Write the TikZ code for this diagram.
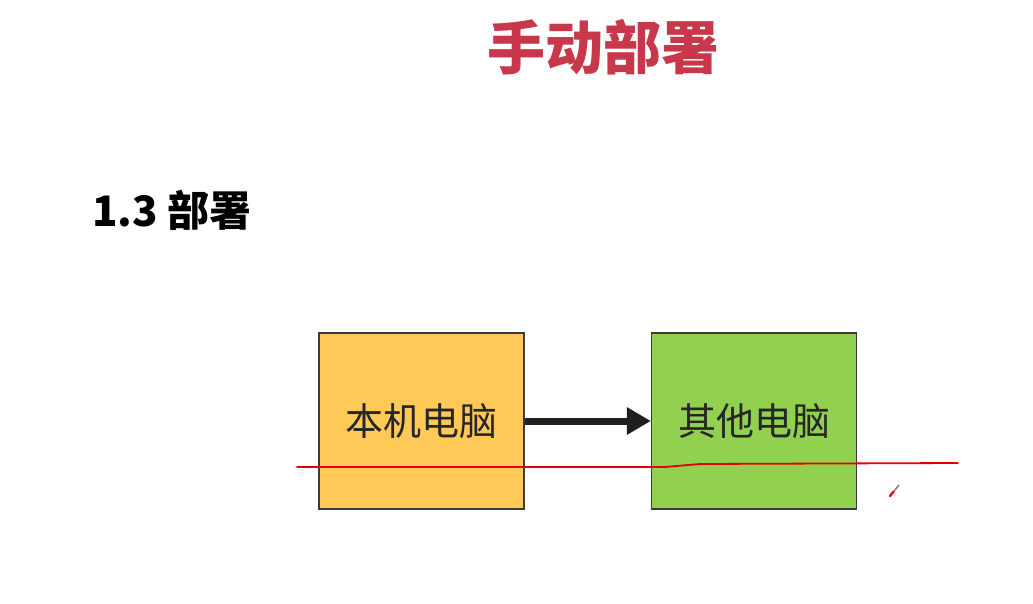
\documentclass[tikz,border=0pt]{standalone}
\usepackage{fontspec}
\newfontfamily\cjk{Noto Sans CJK SC}
\usetikzlibrary{arrows.meta,calc}
\definecolor{titlered}{HTML}{C8384A}
\definecolor{boxorange}{HTML}{FFC957}
\definecolor{boxgreen}{HTML}{92D050}
\definecolor{boxborder}{HTML}{3A3A44}
\definecolor{penred}{HTML}{E8102A}
\tikzset{
  pcbox/.style={draw=boxborder, line width=1.2pt, minimum width=205pt, minimum height=176pt, inner sep=0pt, font=\cjk\fontsize{38}{40}\selectfont, text=black!85},
  bigarrow/.style={line width=7pt, -{Triangle[length=24pt,width=26pt]}, color=black!88},
  redline/.style={draw=red!90!black, line width=1.8pt, line cap=round, line join=round}
}
\begin{document}
\begin{tikzpicture}[x=1pt,y=-1pt]
\useasboundingbox (0,0) rectangle (1033,604);
\fill[white] (0,0) rectangle (1033,604);
\node[font=\cjk\bfseries\fontsize{58}{60}\selectfont, text=titlered] (title) at (603,47) {手动部署};
\node[font=\cjk\bfseries\fontsize{42}{44}\selectfont, anchor=west, inner sep=0pt] (sec) at (92,210) {1.3 部署};
\node[pcbox, fill=boxorange] (local) at (421.5,421) {本机电脑};
\node[pcbox, fill=boxgreen] (other) at (754,421) {其他电脑};
\draw[bigarrow] (local.east) -- (other.west);
\coordinate (r1) at (297,467);
\coordinate (r2) at (665,467);
\coordinate (r3) at (700,464);
\coordinate (r4) at (958,463);
\draw[redline] (r1) -- (r2) -- (r3) -- (r4);
\coordinate (p1) at (899,485);
\coordinate (p2) at (890,496);
\coordinate (pm) at ($(p1)!0.6!(p2)$);
\draw[gray, line width=1.5pt] (p1) -- (pm);
\draw[penred, line width=2.5pt, line cap=round] (pm) -- (p2);
\end{tikzpicture}
\end{document}
